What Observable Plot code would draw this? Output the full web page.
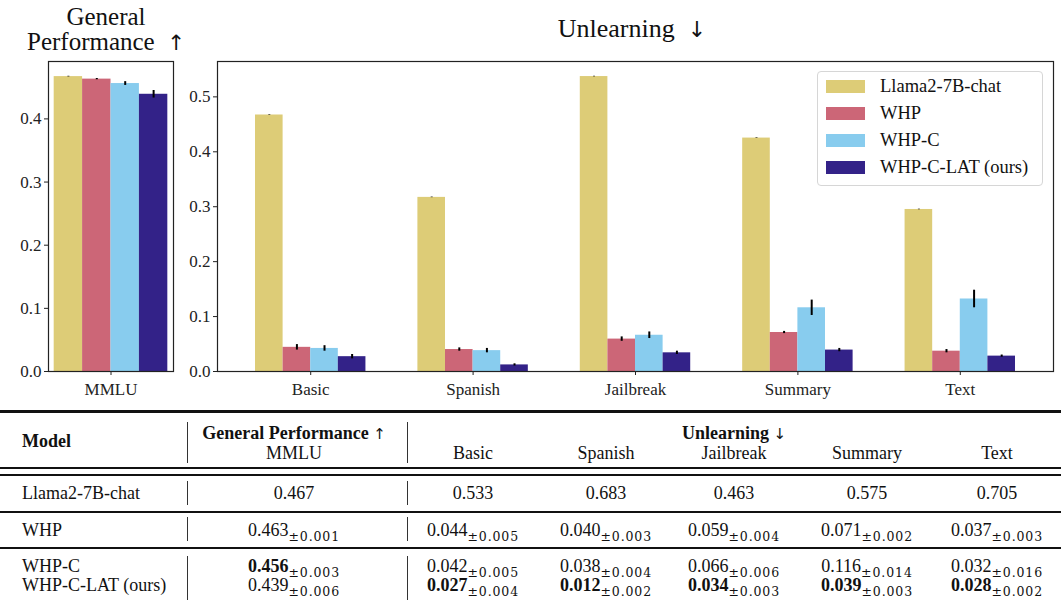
<!DOCTYPE html>
<html>
<head>
<meta charset="utf-8">
<script src="https://cdn.jsdelivr.net/npm/d3@7"></script>
<script src="https://cdn.jsdelivr.net/npm/@observablehq/plot@0.6"></script>
<style>
  html, body { margin: 0; padding: 0; background: #fff; }
  #page { position: relative; width: 1061px; height: 600px; overflow: hidden; font-family: "Liberation Serif", serif; color: #111; }
  .title { position: absolute; text-align: center; white-space: pre; color: #111; }
  .arrow { font-family: "DejaVu Sans", sans-serif; font-weight: normal; color: #111; }
  .title .arrow { font-size: 0.85em; }
  .legend { position: absolute; left: 817px; top: 71px; width: 226px; height: 115px; border: 1px solid #d6d6d6; border-radius: 4px; background: rgba(255,255,255,0.85); box-sizing: border-box; }
  .legend .sw { position: absolute; left: 8px; width: 39px; height: 13px; }
  .legend .lab { position: absolute; left: 62px; font-size: 18.5px; line-height: 20px; white-space: nowrap; }
  .cell { position: absolute; white-space: nowrap; font-size: 18px; line-height: 20px; transform: translate(-50%, -50%); }
  .cell.left { transform: translate(0, -50%); }
  .cell .arrow { font-size: 15px; }
  .cell sub { font-family: "DejaVu Serif", serif; font-size: 12.5px; letter-spacing: 0.9px; vertical-align: -5px; line-height: 0; }
  .rule { position: absolute; left: 0; width: 1061px; background: #111; }
  .vsep { position: absolute; width: 1.2px; background: #333; }
</style>
</head>
<body>
<div id="page"></div>
<script>
// ---------------- data ----------------
const series = ["Llama2-7B-chat", "WHP", "WHP-C", "WHP-C-LAT (ours)"];
const seriesColors = ["#DDCC77", "#CC6677", "#88CCEE", "#332288"];

const mmluMean = [0.467, 0.463, 0.456, 0.439];
const mmluErr  = [0.0005, 0.001, 0.003, 0.006];

const tasks = ["Basic", "Spanish", "Jailbreak", "Summary", "Text"];
const llamaUnlearn = [0.467, 0.317, 0.537, 0.425, 0.295];
const llamaErr     = [0.0005, 0.0005, 0.0005, 0.0005, 0.0005];
const whpUnlearn   = [0.044, 0.040, 0.059, 0.071, 0.037];
const whpErr       = [0.005, 0.003, 0.004, 0.002, 0.003];
const whpcUnlearn  = [0.042, 0.038, 0.066, 0.116, 0.132];
const whpcErr      = [0.005, 0.004, 0.006, 0.014, 0.016];
const latUnlearn   = [0.027, 0.012, 0.034, 0.039, 0.028];
const latErr       = [0.004, 0.002, 0.003, 0.003, 0.002];

const yTicksLeft  = [0, 0.1, 0.2, 0.3, 0.4];
const yTicksRight = [0, 0.1, 0.2, 0.3, 0.4, 0.5];

// table
const tableColumns = ["MMLU", "Basic", "Spanish", "Jailbreak", "Summary", "Text"];
const tblModels  = ["Llama2-7B-chat", "WHP", "WHP-C", "WHP-C-LAT (ours)"];
const tblLlama   = [0.467, 0.533, 0.683, 0.463, 0.575, 0.705];
const tblWHP     = [0.463, 0.044, 0.040, 0.059, 0.071, 0.037];
const tblWHPStd  = [0.001, 0.005, 0.003, 0.004, 0.002, 0.003];
const tblWHPC    = [0.456, 0.042, 0.038, 0.066, 0.116, 0.032];
const tblWHPCStd = [0.003, 0.005, 0.004, 0.006, 0.014, 0.016];
const tblLAT     = [0.439, 0.027, 0.012, 0.034, 0.039, 0.028];
const tblLATStd  = [0.006, 0.004, 0.002, 0.003, 0.003, 0.002];
const tblWHPCBold = [true, false, false, false, false, false];
const tblLATBold  = [false, true, true, true, true, true];

// ---------------- build ----------------
const page = document.getElementById("page");
const barW = 0.17;
const font = "Liberation Serif";

function bars(groupIndex, values, errs) {
  return values.map((v, si) => ({
    ci: groupIndex, si, series: series[si], value: v, err: errs[si],
    xc: groupIndex + (si - 1.5) * barW
  }));
}

const mmluData = bars(0, mmluMean, mmluErr);
const unlearnData = tasks.flatMap((t, ci) =>
  bars(ci, [llamaUnlearn[ci], whpUnlearn[ci], whpcUnlearn[ci], latUnlearn[ci]],
           [llamaErr[ci], whpErr[ci], whpcErr[ci], latErr[ci]]));

function panel({data, xDomain, yDomain, yTicks, xTicks, xLabels, width, marginLeft, marginRight}) {
  return Plot.plot({
    width, height: 400,
    marginLeft, marginRight, marginTop: 61, marginBottom: 29,
    style: {fontFamily: font, fontSize: "17px", color: "#222", background: "transparent", overflow: "visible"},
    x: {type: "linear", domain: xDomain},
    y: {domain: yDomain},
    color: {domain: series, range: seriesColors},
    marks: [
      Plot.rectY(data, {x1: d => d.xc - barW / 2, x2: d => d.xc + barW / 2, y: "value", fill: "series"}),
      Plot.ruleX(data, {x: "xc", y1: d => d.value - d.err, y2: d => d.value + d.err, stroke: "black", strokeWidth: 2}),
      Plot.frame({stroke: "#222", strokeWidth: 1.2}),
      Plot.axisY({ticks: yTicks, tickFormat: d3.format(".1f"), tickSize: 4, tickPadding: 3, fontSize: 17, label: null}),
      Plot.axisX({ticks: xTicks, tickFormat: i => xLabels[Math.round(i)], tickSize: 4, tickPadding: 7, fontSize: 17, label: null})
    ]
  });
}

const left = panel({
  data: mmluData, xDomain: [-0.374, 0.374], yDomain: [0, 0.4909],
  yTicks: yTicksLeft, xTicks: [0], xLabels: ["MMLU"],
  width: 200, marginLeft: 48, marginRight: 27
});
left.style.position = "absolute"; left.style.left = "0px"; left.style.top = "0px";
page.appendChild(left);

const right = panel({
  data: unlearnData, xDomain: [-0.574, 4.574], yDomain: [0, 0.5644],
  yTicks: yTicksRight, xTicks: tasks.map((t, i) => i), xLabels: tasks,
  width: 881, marginLeft: 37, marginRight: 8
});
right.style.position = "absolute"; right.style.left = "180px"; right.style.top = "0px";
page.appendChild(right);

// titles
function addTitle(html, cx, top, size) {
  const d = document.createElement("div");
  d.className = "title";
  d.innerHTML = html;
  d.style.fontSize = size + "px";
  d.style.lineHeight = size + "px";
  d.style.left = (cx - 150) + "px";
  d.style.width = "300px";
  d.style.top = top + "px";
  page.appendChild(d);
}
addTitle("General\nPerformance  <span class=\"arrow\">↑</span>", 106, 4, 25);
addTitle("Unlearning  <span class=\"arrow\">↓</span>", 632, 16, 26);

// legend
const leg = document.createElement("div");
leg.className = "legend";
series.forEach((s, i) => {
  const sw = document.createElement("div");
  sw.className = "sw";
  sw.style.background = seriesColors[i];
  sw.style.top = (8 + i * 27) + "px";
  leg.appendChild(sw);
  const lab = document.createElement("div");
  lab.className = "lab";
  lab.textContent = s;
  lab.style.top = (4 + i * 27) + "px";
  leg.appendChild(lab);
});
page.appendChild(leg);

// ---------------- table ----------------
const colX = [294, 473, 606, 734, 867, 997];
function addCell(html, x, y, cls) {
  const d = document.createElement("div");
  d.className = "cell" + (cls ? " " + cls : "");
  d.innerHTML = html;
  d.style.left = x + "px";
  d.style.top = y + "px";
  page.appendChild(d);
}
function addRule(y, h) {
  const d = document.createElement("div");
  d.className = "rule";
  d.style.top = y + "px";
  d.style.height = h + "px";
  page.appendChild(d);
}
function addVsep(x, y1, y2) {
  const d = document.createElement("div");
  d.className = "vsep";
  d.style.left = x + "px";
  d.style.top = y1 + "px";
  d.style.height = (y2 - y1) + "px";
  page.appendChild(d);
}
const fmt = d3.format(".3f");
function val(v, sd, bold) {
  const main = bold ? "<b>" + fmt(v) + "</b>" : fmt(v);
  return sd == null ? main : main + "<sub>±" + fmt(sd) + "</sub>";
}

addRule(410, 3);
addRule(467, 1.5);
addRule(474, 1.5);
addRule(511, 1.5);
addRule(547, 1.5);

// header
addCell("<b>Model</b>", 22, 441, "left");
addCell("<b>General Performance <span class=\"arrow\">↑</span></b>", colX[0], 433);
addCell(tableColumns[0], colX[0], 453);
addCell("<b>Unlearning <span class=\"arrow\">↓</span></b>", 734, 433);
tableColumns.slice(1).forEach((c, i) => addCell(c, colX[i + 1], 453));

// rows
const rowY = [493, 530, 566, 585];
addCell(tblModels[0], 22, rowY[0], "left");
tblLlama.forEach((v, i) => addCell(val(v, null, false), colX[i], rowY[0]));
addCell(tblModels[1], 22, rowY[1], "left");
tblWHP.forEach((v, i) => addCell(val(v, tblWHPStd[i], false), colX[i], rowY[1]));
addCell(tblModels[2], 22, rowY[2], "left");
tblWHPC.forEach((v, i) => addCell(val(v, tblWHPCStd[i], tblWHPCBold[i]), colX[i], rowY[2]));
addCell(tblModels[3], 22, rowY[3], "left");
tblLAT.forEach((v, i) => addCell(val(v, tblLATStd[i], tblLATBold[i]), colX[i], rowY[3]));

// vertical separators
[[422, 463], [481, 505], [517, 541], [556, 600]].forEach(([a, b]) => {
  addVsep(187, a, b);
  addVsep(406.5, a, b);
});
</script>
</body>
</html>
